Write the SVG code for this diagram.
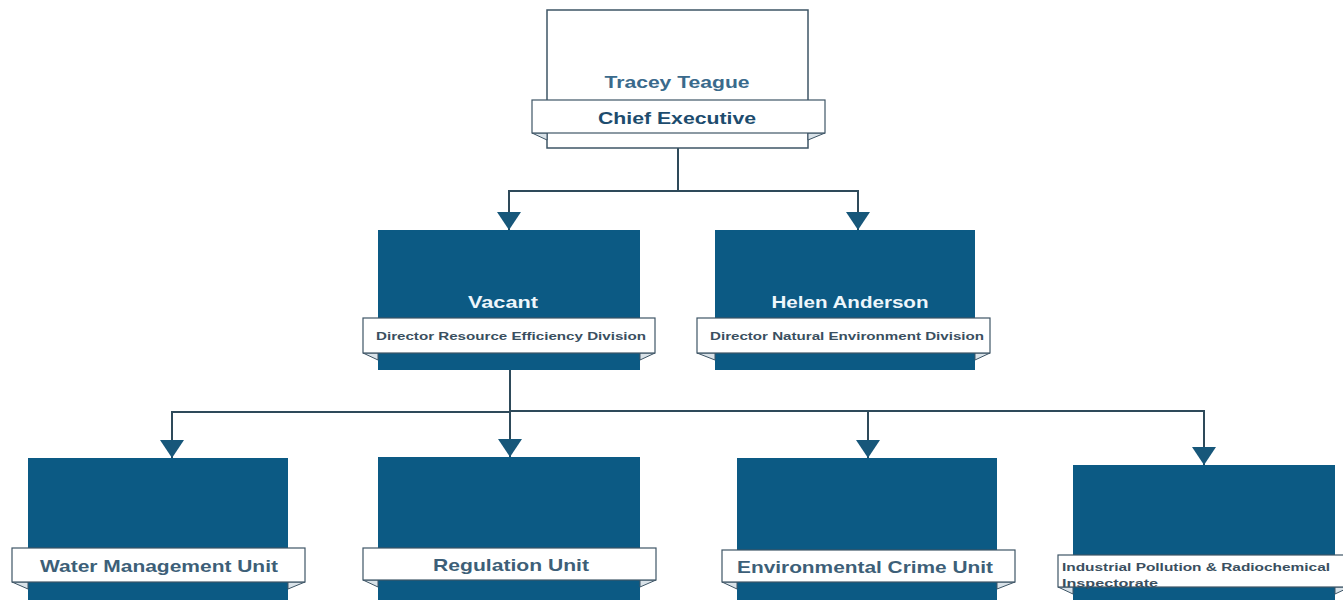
<svg xmlns="http://www.w3.org/2000/svg" width="1343" height="600" viewBox="0 0 1343 600">
<defs>
<style>
.box{fill:#0c5a84;}
.wbox{fill:#ffffff;stroke:#3e5566;stroke-width:1.5;}
.ban{fill:#ffffff;stroke:#3e5566;stroke-width:1.2;}
.fold{fill:#d9e2e8;stroke:#3e5566;stroke-width:1;}
.ln{fill:none;stroke:#2e4a5a;stroke-width:2;}
.t{font-family:"Liberation Sans",Arial,sans-serif;font-weight:bold;text-anchor:middle;}
.big{font-size:16px;}
.sm{font-size:11px;fill:#3a4f60;}
.unit{font-size:17px;fill:#3d5f78;}
.w{fill:#eef6fb;}
.ind{font-family:"Liberation Sans",Arial,sans-serif;font-weight:bold;font-size:11px;fill:#3a4f60;}
</style>
<marker id="arr" viewBox="0 0 18 24" refX="18" refY="12" markerWidth="18" markerHeight="24" markerUnits="userSpaceOnUse" orient="auto">
<path d="M0,0 L18,12 L0,24 Z" fill="#17577a"/>
</marker>
</defs>
<rect width="1343" height="600" fill="#ffffff"/>

<g id="connectors">
<path class="ln" d="M678,148 V191 H509 V230" marker-end="url(#arr)"/>
<path class="ln" d="M678,191 H858 V230" marker-end="url(#arr)"/>
<path class="ln" d="M510,370 V457" marker-end="url(#arr)"/>
<path class="ln" d="M510,412 H172 V458" marker-end="url(#arr)"/>
<path class="ln" d="M510,411 H868 V458" marker-end="url(#arr)"/>
<path class="ln" d="M868,411 H1204 V465" marker-end="url(#arr)"/>
</g>

<g id="ceo">
<rect class="wbox" x="547" y="10" width="261" height="138"/>
<polygon class="fold" points="532,133 547,133 547,140"/>
<polygon class="fold" points="825,133 808,133 808,140"/>
<rect class="ban" x="532" y="100" width="293" height="33"/>
<text class="t big" x="677" y="88" fill="#3a6a8c" textLength="145" lengthAdjust="spacingAndGlyphs">Tracey Teague</text>
<text class="t" x="677" y="124" font-size="17" fill="#1d4c6e" textLength="158" lengthAdjust="spacingAndGlyphs">Chief Executive</text>
</g>

<g id="vacant">
<rect class="box" x="378" y="230" width="262" height="140"/>
<polygon class="fold" points="363,353 378,353 378,360"/>
<polygon class="fold" points="655,353 640,353 640,360"/>
<rect class="ban" x="363" y="318" width="292" height="35"/>
<text class="t big w" x="503" y="308" textLength="70" lengthAdjust="spacingAndGlyphs">Vacant</text>
<text class="t sm" x="511" y="340" textLength="270" lengthAdjust="spacingAndGlyphs">Director  Resource Efficiency Division</text>
</g>

<g id="helen">
<rect class="box" x="715" y="230" width="260" height="140"/>
<polygon class="fold" points="697,353 715,353 715,360"/>
<polygon class="fold" points="990,353 975,353 975,360"/>
<rect class="ban" x="697" y="318" width="293" height="35"/>
<text class="t big w" x="850" y="308" textLength="157" lengthAdjust="spacingAndGlyphs">Helen Anderson</text>
<text class="t sm" x="847" y="340" textLength="274" lengthAdjust="spacingAndGlyphs">Director  Natural Environment Division</text>
</g>

<g id="water">
<rect class="box" x="28" y="458" width="260" height="142"/>
<polygon class="fold" points="12,582 28,582 28,589"/>
<polygon class="fold" points="305,582 288,582 288,589"/>
<rect class="ban" x="12" y="548" width="293" height="34"/>
<text class="t unit" x="159" y="572" textLength="238" lengthAdjust="spacingAndGlyphs">Water Management Unit</text>
</g>

<g id="regulation">
<rect class="box" x="378" y="457" width="262" height="143"/>
<polygon class="fold" points="363,580 378,580 378,587"/>
<polygon class="fold" points="656,580 640,580 640,587"/>
<rect class="ban" x="363" y="548" width="293" height="32"/>
<text class="t unit" x="511" y="571" textLength="156" lengthAdjust="spacingAndGlyphs">Regulation Unit</text>
</g>

<g id="crime">
<rect class="box" x="737" y="458" width="260" height="142"/>
<polygon class="fold" points="722,582 737,582 737,589"/>
<polygon class="fold" points="1015,582 997,582 997,589"/>
<rect class="ban" x="722" y="550" width="293" height="32"/>
<text class="t unit" x="865" y="573" textLength="256" lengthAdjust="spacingAndGlyphs">Environmental Crime Unit</text>
</g>

<g id="industrial">
<rect class="box" x="1073" y="465" width="262" height="135"/>
<polygon class="fold" points="1058,587 1073,587 1073,594"/>
<polygon class="fold" points="1350,587 1335,587 1335,594"/>
<rect class="ban" x="1058" y="555" width="292" height="32"/>
<text class="ind" x="1062" y="571" textLength="268" lengthAdjust="spacingAndGlyphs">Industrial Pollution &amp; Radiochemical</text>
<text class="ind" x="1062" y="587" textLength="96" lengthAdjust="spacingAndGlyphs">Inspectorate</text>
</g>
</svg>
